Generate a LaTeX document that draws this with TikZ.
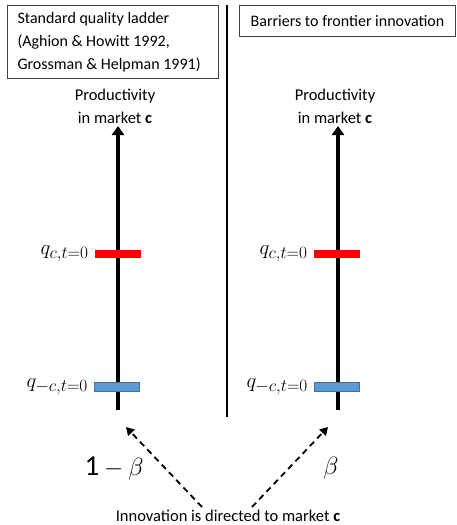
\documentclass[tikz,border=0pt]{standalone}
\usepackage{fontspec}
\setmainfont{Carlito}
\usetikzlibrary{arrows.meta}
\DeclareMathSizes{20}{20}{16}{12}
\definecolor{barblue}{HTML}{5B9BD5}
\definecolor{barblueedge}{HTML}{41719C}
\begin{document}
\begin{tikzpicture}[x=1pt,y=-1pt,
  font=\fontsize{16.5}{23}\selectfont,
  titlebox/.style={draw=black!75, line width=1pt, anchor=north west, inner ysep=0pt, font=\fontsize{16}{23}\selectfont},
  axisarrow/.style={line width=4pt, -{Triangle[width=12pt,length=9pt]}},
  redbar/.style={fill=red, draw=none, minimum width=46pt, minimum height=8.5pt, inner sep=0pt},
  bluebar/.style={fill=barblue, draw=barblueedge, line width=0.8pt, minimum width=45pt, minimum height=9pt, inner sep=0pt},
  qlabel/.style={anchor=east, inner sep=0pt, font=\fontsize{20}{22}\selectfont},
  dasharrow/.style={line width=1.8pt, dash pattern=on 6pt off 4.5pt, -{Triangle[width=9pt,length=8pt]}},
  biglabel/.style={font=\fontsize{29}{32}\selectfont},
]
\useasboundingbox (0,0) rectangle (457,525);

% title boxes
\node[titlebox, align=flush left, inner xsep=10pt, text width=191pt, minimum height=73pt] (boxL) at (7,5)
  {Standard quality ladder\\(Aghion \& Howitt 1992,\\Grossman \& Helpman 1991)};
\node[titlebox, align=left, minimum width=216pt, minimum height=31pt] (boxR) at (239,5)
  {Barriers to frontier innovation};

% divider
\coordinate (divT) at (227,5);
\coordinate (divB) at (227,417);
\draw[line width=1.5pt] (divT) -- (divB);

% productivity labels
\node[align=center, inner sep=0pt] (prodL) at (115,106) {Productivity\\in market \textbf{c}};
\node[align=center, inner sep=0pt] (prodR) at (335,106) {Productivity\\in market \textbf{c}};

% axes
\coordinate (axL) at (118,410);
\coordinate (axLtop) at (118,126);
\coordinate (axR) at (338,410);
\coordinate (axRtop) at (338,126);
\draw[axisarrow] (axL) -- (axLtop);
\draw[axisarrow] (axR) -- (axRtop);

% bars
\node[redbar] (redL) at (118,254) {};
\node[redbar] (redR) at (337,254) {};
\node[bluebar] (blueL) at (117,386.5) {};
\node[bluebar] (blueR) at (337,386.5) {};

% q labels
\node[qlabel] (qcL) at ([xshift=-6pt]redL.west) {$q_{c,t=0}$};
\node[qlabel] (qcR) at ([xshift=-6pt]redR.west) {$q_{c,t=0}$};
\node[qlabel] (qmL) at ([xshift=-6pt]blueL.west) {$q_{-c,t=0}$};
\node[qlabel] (qmR) at ([xshift=-6pt]blueR.west) {$q_{-c,t=0}$};

% probabilities
\node[biglabel] (oneminusbeta) at (114,469) {1\,$-$\,$\beta$};
\node[biglabel] (beta) at (331,468) {$\beta$};

% bottom text
\node (innov) at (228,516) {Innovation is directed to market \textbf{c}};

% dashed arrows
\coordinate (dLs) at (202,507);
\coordinate (dLe) at (126,427);
\coordinate (dRs) at (252,507);
\coordinate (dRe) at (328,427);
\draw[dasharrow] (dLs) -- (dLe);
\draw[dasharrow] (dRs) -- (dRe);
\end{tikzpicture}
\end{document}
